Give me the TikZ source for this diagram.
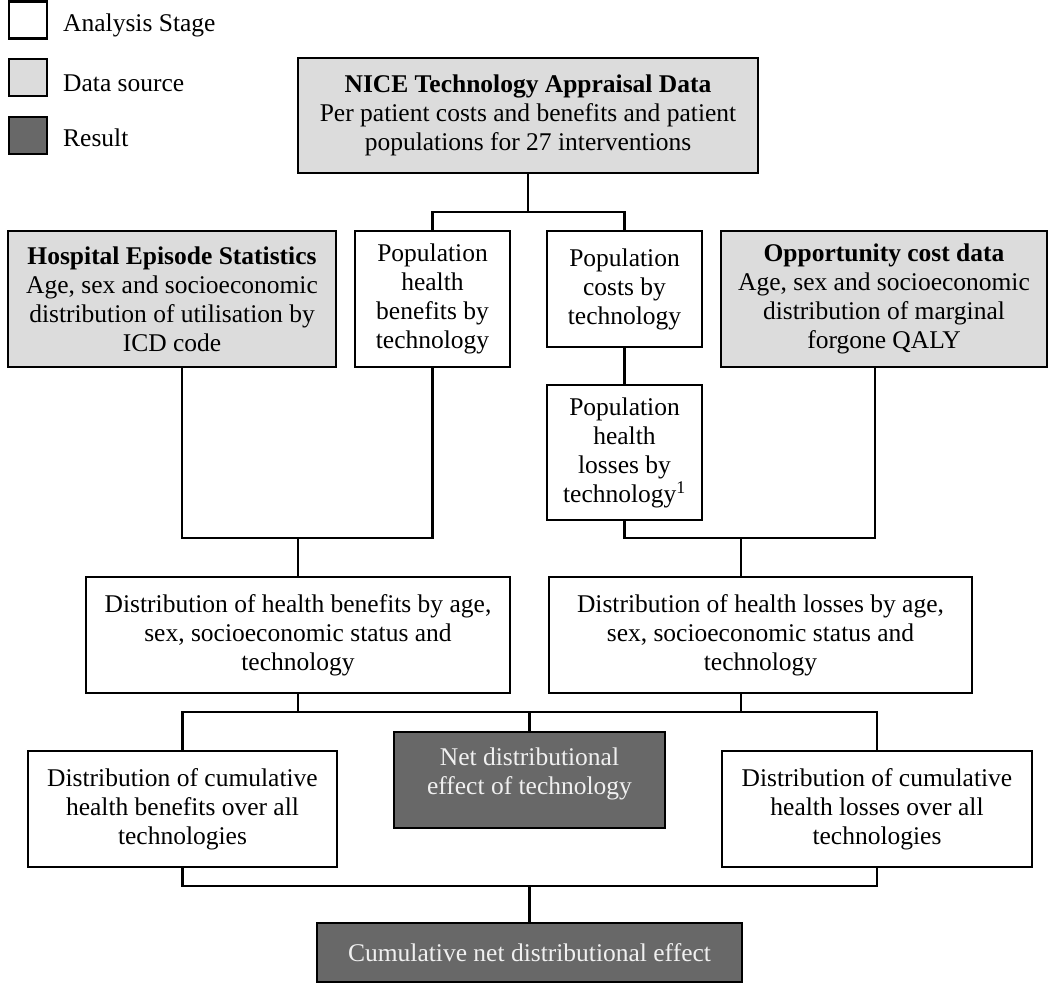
\documentclass[tikz,border=0pt]{standalone}
\usepackage{fontspec}
\setmainfont{Liberation Serif}
\definecolor{datagray}{RGB}{220,220,220}
\definecolor{resgray}{RGB}{104,104,104}
\definecolor{restext}{RGB}{240,240,240}
\tikzset{
  x=1pt,y=1pt,
  every node/.style={font=\fontsize{25.5}{29}\selectfont},
  box/.style={draw=black, line width=2.4pt, rectangle, align=center, inner sep=2pt, fill=white},
  stagebox/.style={box, fill=white},
  databox/.style={box, fill=datagray},
  resbox/.style={box, fill=resgray, text=restext},
  legbox/.style={draw=black, line width=2.4pt, minimum width=38pt, minimum height=37pt, inner sep=0pt},
  legtext/.style={anchor=west, inner sep=0pt},
  conn/.style={draw=black, line width=2.2pt}
}
\begin{document}
\begin{tikzpicture}
\useasboundingbox (0,0) rectangle (1049,-984);

% legend
\node[legbox, fill=white] (legA) at (28,-20) {};
\node[legbox, fill=datagray] (legB) at (28,-77.5) {};
\node[legbox, fill=resgray] (legC) at (28,-135.5) {};
\node[legtext] (legAt) at (63,-25) {Analysis Stage};
\node[legtext] (legBt) at (63,-83) {Data source};
\node[legtext] (legCt) at (63,-138) {Result};

% top data source
\node[databox, minimum width=460pt, minimum height=115pt] (nice) at (528,-115.5)
  {\textbf{NICE Technology Appraisal Data}\\Per patient costs and benefits and patient\\populations for 27 interventions};

% row 2
\node[databox, minimum width=328pt, minimum height=136pt] (hes) at (172,-299)
  {\textbf{Hospital Episode Statistics}\\Age, sex and socioeconomic\\distribution of utilisation by\\ICD code};
\node[stagebox, minimum width=155pt, minimum height=136pt] (pben) at (432.5,-299)
  {Population\\health\\benefits by\\technology};
\node[stagebox, minimum width=155pt, minimum height=116pt] (pcost) at (624.5,-289)
  {Population\\costs by\\technology};
\node[databox, minimum width=326pt, minimum height=136pt] (opp) at (884,-299)
  {\textbf{Opportunity cost data}\\Age, sex and socioeconomic\\distribution of marginal\\forgone QALY};
\node[stagebox, minimum width=155pt, minimum height=135pt] (ploss) at (624.5,-452.5)
  {Population\\health\\losses by\\technology\textsuperscript{1}};

% row 3
\node[stagebox, minimum width=424pt, minimum height=116pt] (dben) at (298,-635)
  {Distribution of health benefits by age,\\sex, socioeconomic status and\\technology};
\node[stagebox, minimum width=423pt, minimum height=116pt] (dloss) at (760.5,-635)
  {Distribution of health losses by age,\\sex, socioeconomic status and\\technology};

% row 4
\node[stagebox, minimum width=309pt, minimum height=116pt] (cben) at (182.5,-809)
  {Distribution of cumulative\\health benefits over all\\technologies};
\node[resbox, minimum width=271pt, minimum height=96pt] (net) at (529.5,-780)
  {Net distributional\\effect of technology\\[-12pt]\mbox{}};
\node[stagebox, minimum width=310pt, minimum height=116pt] (closs) at (877,-809)
  {Distribution of cumulative\\health losses over all\\technologies};

% result
\node[resbox, minimum width=425pt, minimum height=59pt] (cbox) at (529.5,-952.5)
  {Cumulative net distributional effect};

% junctions
\coordinate (j1) at (528,-212);
\coordinate (j2) at (298,-538);
\coordinate (j3) at (741,-538);
\coordinate (j4) at (529.5,-712);
\coordinate (j5) at (529.5,-886);

% connectors
\draw[conn] (nice.south) -- (j1);
\draw[conn] (pben.north) |- (j1) -| (pcost.north);
\draw[conn] ([xshift=10pt]hes.south) |- (j2) -| (pben.south);
\draw[conn] (j2) -- (dben.north);
\draw[conn] (pcost.south) -- (ploss.north);
\draw[conn] (ploss.south) |- (j3) -| ([xshift=-9pt]opp.south);
\draw[conn] (j3) -- (j3 |- dloss.north);
\draw[conn] (dben.south) -- (dben.south |- j4);
\draw[conn] (j3 |- dloss.south) -- (j3 |- j4);
\draw[conn] (cben.north) |- (j4) -| (closs.north);
\draw[conn] (j4) -- (net.north);
\draw[conn] (cben.south) |- (j5) -| (closs.south);
\draw[conn] (j5) -- (cbox.north);
\end{tikzpicture}
\end{document}
